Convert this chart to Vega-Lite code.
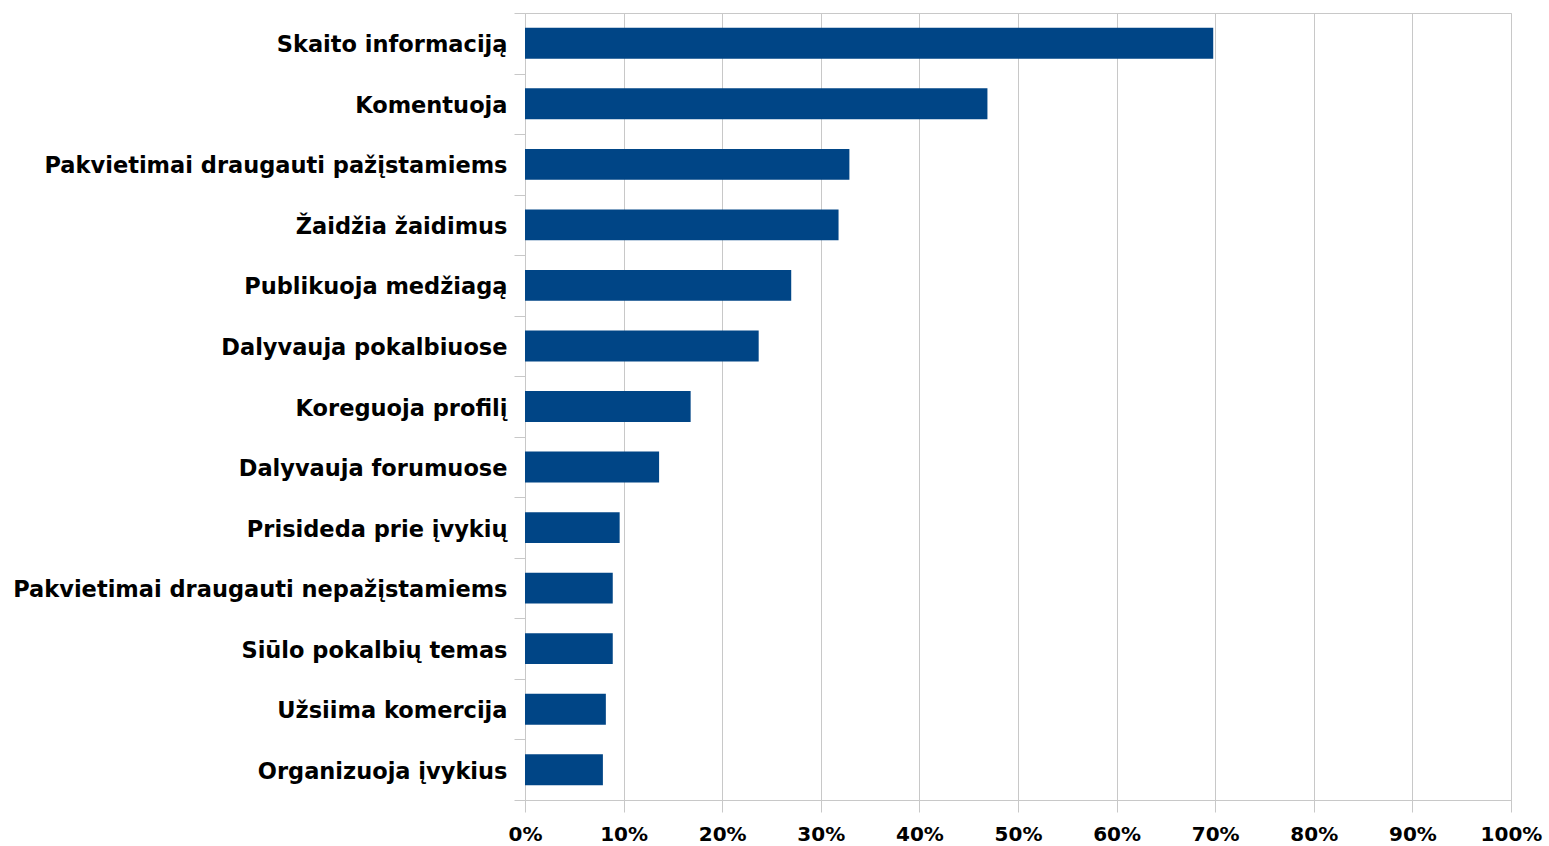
{
  "$schema": "https://vega.github.io/schema/vega-lite/v6.json",
  "width": 986,
  "height": 787,
  "autosize": {"type": "none"},
  "padding": {"left": 525, "top": 13, "right": 38, "bottom": 46},
  "background": "white",
  "config": {
    "view": {"stroke": "#c8c8c8", "strokeWidth": 1},
    "font": "DejaVu Sans"
  },
  "data": {
    "values": [
      {"veikla": "Skaito informaciją", "dalis": 0.698},
      {"veikla": "Komentuoja", "dalis": 0.469},
      {"veikla": "Pakvietimai draugauti pažįstamiems", "dalis": 0.329},
      {"veikla": "Žaidžia žaidimus", "dalis": 0.318},
      {"veikla": "Publikuoja medžiagą", "dalis": 0.270},
      {"veikla": "Dalyvauja pokalbiuose", "dalis": 0.237},
      {"veikla": "Koreguoja profilį", "dalis": 0.168},
      {"veikla": "Dalyvauja forumuose\u2007", "dalis": 0.136},
      {"veikla": "Prisideda prie įvykių", "dalis": 0.096},
      {"veikla": "Pakvietimai draugauti nepažįstamiems", "dalis": 0.089},
      {"veikla": "Siūlo pokalbių temas", "dalis": 0.089},
      {"veikla": "Užsiima komercija", "dalis": 0.082},
      {"veikla": "Organizuoja įvykius", "dalis": 0.079}
    ]
  },
  "mark": {"type": "bar", "color": "#004586", "height": {"band": 0.51}},
  "encoding": {
    "y": {
      "field": "veikla",
      "type": "nominal",
      "sort": null,
      "title": null,
      "scale": {"paddingInner": 0, "paddingOuter": 0},
      "axis": {
        "tickBand": "extent",
        "tickSize": 11,
        "tickColor": "#c8c8c8",
        "domainColor": "#c8c8c8",
        "labelFont": "DejaVu Sans",
        "labelFontWeight": "bold",
        "labelFontSize": 22.5,
        "labelColor": "black",
        "labelPadding": 7,
        "labelOffset": 1.5,
        "labelLimit": 600,
        "grid": false
      }
    },
    "x": {
      "field": "dalis",
      "type": "quantitative",
      "title": null,
      "scale": {"domain": [0, 1], "nice": false},
      "axis": {
        "format": ".0%",
        "values": [0, 0.1, 0.2, 0.3, 0.4, 0.5, 0.6, 0.7, 0.8, 0.9, 1],
        "tickSize": 12,
        "tickColor": "#c8c8c8",
        "domainColor": "#c8c8c8",
        "gridColor": "#c8c8c8",
        "grid": true,
        "labelFont": "DejaVu Sans",
        "labelFontWeight": "bold",
        "labelFontSize": 20,
        "labelColor": "black",
        "labelPadding": 12,
        "labelFlush": false
      }
    }
  }
}
